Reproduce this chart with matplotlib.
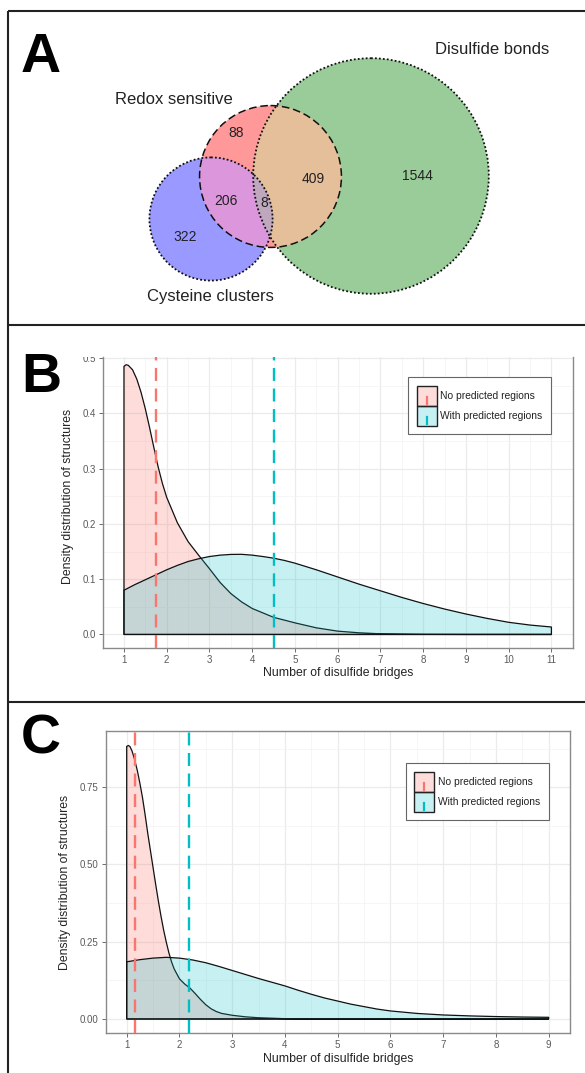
import numpy as np
import matplotlib
matplotlib.use("Agg")
import matplotlib.pyplot as plt
from matplotlib.patches import Circle, Polygon, Rectangle, Patch
from matplotlib.lines import Line2D
from matplotlib.legend_handler import HandlerBase
from matplotlib.ticker import MultipleLocator, FixedLocator
from matplotlib.transforms import Bbox, TransformedBbox

plt.rcParams["font.family"] = ["Liberation Sans", "DejaVu Sans"]

# --------------------------------------------------------------------------
# Data
# --------------------------------------------------------------------------
# Venn region counts (A)
only_redox = 88
only_disulfide = 1544
only_cysteine = 322
redox_disulfide = 409
redox_cysteine = 206
all_three = 8
disulfide_cysteine = 0

set_names = ["Redox sensitive", "Disulfide bonds", "Cysteine clusters"]

# density curves (B): all structures
b_x_none = [1.00, 1.05, 1.10, 1.20, 1.30, 1.40, 1.50, 1.60, 1.70, 1.80, 1.90,
            2.00, 2.25, 2.50, 2.75, 3.00, 3.25, 3.50, 3.75, 4.00, 4.50, 5.00,
            5.50, 6.00, 6.50, 7.00, 8.00, 9.00, 10.0, 11.0]
b_y_none = [0.485, 0.488, 0.487, 0.479, 0.462, 0.438, 0.408, 0.374, 0.338,
            0.303, 0.273, 0.248, 0.202, 0.168, 0.143, 0.119, 0.094, 0.074,
            0.059, 0.047, 0.031, 0.021, 0.012, 0.006, 0.003, 0.0012, 0.0002,
            0.0, 0.0, 0.0]
b_x_with = [1.0, 1.25, 1.5, 1.75, 2.0, 2.25, 2.5, 2.75, 3.0, 3.25, 3.5, 3.75,
            4.0, 4.25, 4.5, 4.75, 5.0, 5.5, 6.0, 6.5, 7.0, 7.5, 8.0, 8.5, 9.0,
            9.5, 10.0, 10.5, 11.0]
b_y_with = [0.080, 0.090, 0.099, 0.108, 0.117, 0.125, 0.132, 0.137, 0.141,
            0.1435, 0.1448, 0.145, 0.1435, 0.141, 0.138, 0.134, 0.129, 0.117,
            0.104, 0.091, 0.079, 0.067, 0.056, 0.046, 0.037, 0.029, 0.022,
            0.017, 0.0135]
b_mean_none = 1.75
b_mean_with = 4.52

# density curves (C)
c_x_none = [1.00, 1.03, 1.06, 1.10, 1.15, 1.20, 1.25, 1.30, 1.35, 1.40, 1.45,
            1.50, 1.55, 1.60, 1.65, 1.70, 1.75, 1.80, 1.85, 1.90, 2.00, 2.10,
            2.20, 2.30, 2.40, 2.50, 2.60, 2.70, 2.80, 3.00, 3.25, 3.50, 4.00,
            4.50, 5.0, 6.0, 7.0, 8.0, 9.0]
c_y_none = [0.882, 0.885, 0.882, 0.868, 0.840, 0.805, 0.763, 0.716, 0.660,
            0.600, 0.545, 0.490, 0.435, 0.382, 0.333, 0.288, 0.249, 0.214,
            0.185, 0.162, 0.130, 0.113, 0.100, 0.082, 0.063, 0.046, 0.033,
            0.024, 0.018, 0.012, 0.007, 0.004, 0.001, 0.0003, 0.0, 0.0, 0.0,
            0.0, 0.0]
c_x_with = [1.0, 1.25, 1.5, 1.75, 2.0, 2.25, 2.5, 2.75, 3.0, 3.25, 3.5, 3.75,
            4.0, 4.25, 4.5, 4.75, 5.0, 5.25, 5.5, 5.75, 6.0, 6.5, 7.0, 7.5,
            8.0, 8.5, 9.0]
c_y_with = [0.185, 0.192, 0.197, 0.1995, 0.197, 0.191, 0.182, 0.170, 0.157,
            0.144, 0.131, 0.119, 0.107, 0.093, 0.080, 0.068, 0.058, 0.048,
            0.040, 0.032, 0.026, 0.018, 0.013, 0.010, 0.0078, 0.0063, 0.0054]
c_mean_none = 1.15
c_mean_with = 2.175

group_labels = ["No predicted regions", "With predicted regions"]

# --------------------------------------------------------------------------
# Style
# --------------------------------------------------------------------------
W, H = 585, 1073
RED, CYAN = "#F8766D", "#00BFC4"
FILL_ALPHA = (0.25, 0.22)
GRID_MAJOR, GRID_MINOR = "#EBEBEB", "#F3F3F3"
TICK_GREY = "#555555"

fig = plt.figure(figsize=(W / 100, H / 100), dpi=100)


def px_axes(left, top, right, bottom):
    return fig.add_axes([left / W, 1 - bottom / H, (right - left) / W,
                         (bottom - top) / H])


def fig_line(xs, ys, **kw):
    fig.add_artist(Line2D([x / W for x in xs], [1 - y / H for y in ys],
                          transform=fig.transFigure, **kw))


# panel frames
frame = dict(color="#222222", lw=1.5, solid_capstyle="butt")
fig_line([8.3, W], [10.7, 10.7], **frame)
fig_line([8.3, W], [325, 325], **frame)
fig_line([8.3, W], [702, 702], **frame)
fig_line([8.3, 8.3], [10.7, H], **frame)

letter_kw = dict(fontsize=40, fontweight="bold", ha="center", va="baseline",
                 color="black")
fig.text(41 / W, 1 - 72 / H, "A", **letter_kw)
fig.text(41 / W, 1 - 392 / H, "B", **letter_kw)
fig.text(41 / W, 1 - 754 / H, "C", **letter_kw)

# --------------------------------------------------------------------------
# A: Venn diagram
# --------------------------------------------------------------------------
ax_v = px_axes(8.3, 10.7, W, 325)
ax_v.set_xlim(8.3, W)
ax_v.set_ylim(325, 10.7)
ax_v.axis("off")

size_redox = only_redox + redox_disulfide + redox_cysteine + all_three
size_disulfide = only_disulfide + redox_disulfide + disulfide_cysteine + all_three
size_cysteine = only_cysteine + redox_cysteine + disulfide_cysteine + all_three
px_per_sqrt = 2.66

disks = {
    "redox": ((270.5, 176.5), px_per_sqrt * np.sqrt(size_redox)),
    "disulfide": ((371.0, 176.0), px_per_sqrt * np.sqrt(size_disulfide)),
    "cysteine": ((211.0, 219.0), px_per_sqrt * np.sqrt(size_cysteine)),
}


def disk_intersection(items, n=2000):
    t = np.linspace(0, 2 * np.pi, n, endpoint=False)
    pts = []
    for i, (c, r) in enumerate(items):
        p = np.column_stack([c[0] + r * np.cos(t), c[1] + r * np.sin(t)])
        keep = np.ones(len(p), bool)
        for j, (c2, r2) in enumerate(items):
            if j != i:
                keep &= np.hypot(p[:, 0] - c2[0], p[:, 1] - c2[1]) <= r2
        pts.append(p[keep])
    pts = np.vstack(pts)
    ctr = pts.mean(axis=0)
    order = np.argsort(np.arctan2(pts[:, 1] - ctr[1], pts[:, 0] - ctr[0]))
    return pts[order]


solo_colors = {"redox": "#FF9999", "disulfide": "#99CC99", "cysteine": "#9999FF"}
for key in ["disulfide", "redox", "cysteine"]:
    c, r = disks[key]
    ax_v.add_patch(Circle(c, r, facecolor=solo_colors[key], edgecolor="none",
                          zorder=1))

pair_colors = [(("redox", "disulfide"), "#E5BE9A"),
               (("redox", "cysteine"), "#DC96DC"),
               (("disulfide", "cysteine"), "#A6AFC8")]
for (k1, k2), col in pair_colors:
    poly = disk_intersection([disks[k1], disks[k2]])
    if len(poly) > 2:
        ax_v.add_patch(Polygon(poly, closed=True, facecolor=col,
                               edgecolor="none", zorder=2))
poly = disk_intersection([disks["redox"], disks["disulfide"], disks["cysteine"]])
ax_v.add_patch(Polygon(poly, closed=True, facecolor="#BFA7BE",
                       edgecolor="none", zorder=3))

outline = {"disulfide": (0, (1.0, 1.2)), "cysteine": (0, (1.0, 1.2)),
           "redox": (0, (5, 2.5))}
for key in ["disulfide", "cysteine", "redox"]:
    c, r = disks[key]
    ax_v.add_patch(Circle(c, r, fill=False, edgecolor="#111111",
                          lw=1.3 if key != "redox" else 1.1,
                          linestyle=outline[key], zorder=4))

num_kw = dict(fontsize=10, ha="center", va="center", color="#222222", zorder=5)
ax_v.text(236, 133, str(only_redox), **num_kw)
ax_v.text(313, 179, str(redox_disulfide), **num_kw)
ax_v.text(417, 176, str(only_disulfide), **num_kw)
ax_v.text(226, 201, str(redox_cysteine), **num_kw)
ax_v.text(264, 203, str(all_three), **num_kw)
ax_v.text(185, 237, str(only_cysteine), **num_kw)

name_kw = dict(fontsize=12, ha="center", va="center", color="#222222", zorder=5)
ax_v.text(173.5, 99, set_names[0], **name_kw)
ax_v.text(492.5, 50, set_names[1], **name_kw)
ax_v.text(210, 296, set_names[2], **name_kw)


# --------------------------------------------------------------------------
# B & C: density plots
# --------------------------------------------------------------------------
class KeyHandler(HandlerBase):
    def __init__(self, line_color):
        super().__init__()
        self.line_color = line_color

    def create_artists(self, legend, orig_handle, xdescent, ydescent, width,
                       height, fontsize, trans):
        x0, y0 = -xdescent, -ydescent
        rect = Rectangle((x0, y0), width, height,
                         facecolor=orig_handle.get_facecolor(),
                         edgecolor="#222222", lw=1.0, transform=trans)
        xm = x0 + width / 2
        seg = Line2D([xm, xm], [y0 + 0.1 * height, y0 + 0.45 * height],
                     color=self.line_color, lw=1.6, transform=trans)
        return [rect, seg]


def density_panel(ax, xs, ys, means, xlim, ylim, xticks, yticks, ytick_fmt,
                  minor_y, legend_anchor, show_top=True):
    colors = [RED, CYAN]
    for x, y, col, a in zip(xs, ys, colors, FILL_ALPHA):
        x = np.asarray(x)
        y = np.asarray(y)
        px = np.r_[x[0], x, x[-1]]
        py = np.r_[0.0, y, 0.0]
        ax.fill(px, py, facecolor=matplotlib.colors.to_rgba(col, a),
                edgecolor="#111111", lw=0.9, zorder=2)
    for m, col in zip(means, colors):
        ax.axvline(m, color=col, lw=1.7, linestyle=(0, (5.5, 3.2)), zorder=3)

    ax.set_xlim(*xlim)
    ax.set_ylim(*ylim)
    ax.xaxis.set_major_locator(FixedLocator(xticks))
    ax.xaxis.set_minor_locator(MultipleLocator(0.5))
    ax.yaxis.set_major_locator(FixedLocator(yticks))
    ax.yaxis.set_minor_locator(MultipleLocator(minor_y))
    ax.set_xticklabels([str(t) for t in xticks])
    ax.set_yticklabels([ytick_fmt.format(t) for t in yticks])
    ax.set_axisbelow(True)
    ax.grid(True, which="major", color=GRID_MAJOR, lw=0.9)
    ax.grid(True, which="minor", color=GRID_MINOR, lw=0.5)
    ax.tick_params(which="major", direction="out", length=3, width=0.6,
                   color=TICK_GREY, labelsize=7, labelcolor="#5A5A5A", pad=2)
    ax.tick_params(which="minor", length=0)
    for side, sp in ax.spines.items():
        sp.set_color("#8A8A8A")
        sp.set_linewidth(1.0)
    if not show_top:
        ax.spines["top"].set_visible(False)

    ax.set_xlabel("Number of disulfide bridges", fontsize=8.8, color="#222222")
    ax.set_ylabel("Density distribution of structures", fontsize=8.8,
                  color="#222222")

    handles = [Patch(facecolor=matplotlib.colors.to_rgba(c, a))
               for c, a in zip(colors, FILL_ALPHA)]
    leg = ax.legend(handles, group_labels, loc="upper left",
                    bbox_to_anchor=legend_anchor,
                    bbox_transform=fig.transFigure, fontsize=7.4,
                    handlelength=1.95, handleheight=2.6, labelspacing=0.0,
                    handletextpad=0.35, borderpad=0.85, borderaxespad=0,
                    fancybox=False, framealpha=1, edgecolor="#666666",
                    handler_map={handles[0]: KeyHandler(RED),
                                 handles[1]: KeyHandler(CYAN)})
    leg.get_frame().set_linewidth(0.8)
    for t in leg.get_texts():
        t.set_color("#222222")
    return ax


# B
ax_b = px_axes(102.6, 357, 572.8, 648)
density_panel(ax_b, [b_x_none, b_x_with], [b_y_none, b_y_with],
              [b_mean_none, b_mean_with], (0.5, 11.5), (-0.0245, 0.502),
              list(range(1, 12)), [0.0, 0.1, 0.2, 0.3, 0.4, 0.5], "{:.1f}",
              0.05, (407.8 / W, 1 - 377 / H), show_top=False)
ax_b.xaxis.set_label_coords(0.5, (648 - 673) / 291)
ax_b.xaxis.label.set_va("center")
ax_b.yaxis.set_label_coords((68 - 102.6) / 470.2, 0.52)
ax_b.yaxis.label.set(rotation_mode="default", va="center", ha="center")
clip = TransformedBbox(Bbox([[0, 0], [1, 1 - 357 / H]]), fig.transFigure)
for lab in ax_b.get_yticklabels():
    lab.set_clip_box(clip)
    lab.set_clip_on(True)

# C
ax_c = px_axes(105.6, 731, 569.8, 1032.7)
density_panel(ax_c, [c_x_none, c_x_with], [c_y_none, c_y_with],
              [c_mean_none, c_mean_with], (0.6, 9.4), (-0.0444, 0.932),
              list(range(1, 10)), [0.0, 0.25, 0.5, 0.75], "{:.2f}",
              0.125, (405.6 / W, 1 - 763 / H), show_top=True)
ax_c.xaxis.set_label_coords(0.5, (1032.7 - 1059) / 301.7)
ax_c.xaxis.label.set_va("center")
ax_c.yaxis.set_label_coords((65.3 - 105.6) / 464.2, 0.4995)
ax_c.yaxis.label.set(rotation_mode="default", va="center", ha="center")

fig.savefig("out.png", dpi=100)
